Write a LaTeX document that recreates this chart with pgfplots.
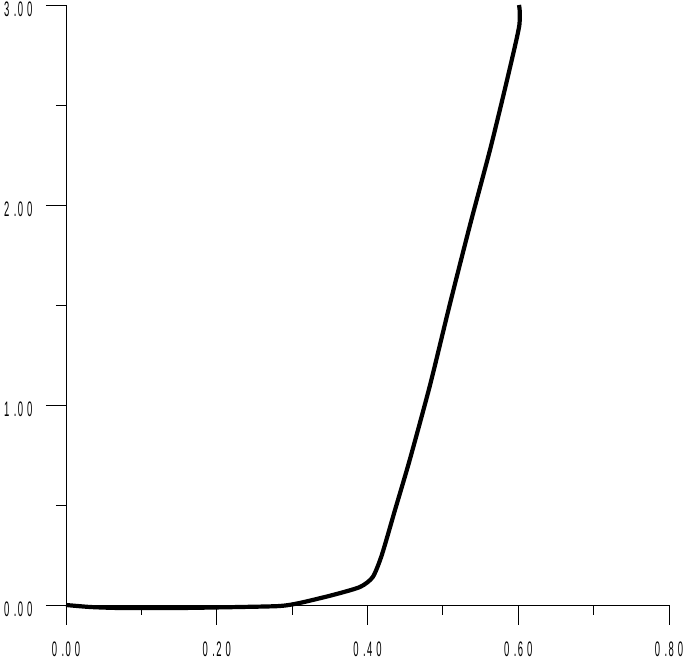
\documentclass[border=0pt]{standalone}
\usepackage{pgfplots}
\pgfplotsset{compat=1.18}
\usepackage{fontspec}
\setmainfont{Liberation Sans}
\newcommand{\lab}[3]{\scalebox{0.45}[1]{\fontsize{21}{21}\selectfont #1\kern10pt.\kern3pt#2\kern9pt#3}}
\begin{document}
\begin{tikzpicture}
\begin{axis}[
  anchor=origin, at={(0,0)},
  scale only axis, width=603pt, height=600pt,
  xmin=0, xmax=0.8, ymin=0, ymax=3,
  axis x line=bottom, axis y line=left,
  axis line style={-, line width=0.8pt},
  tick align=outside,
  major tick length=20pt, minor tick length=10pt,
  every tick/.style={black, line width=0.8pt},
  xtick={0,0.2,0.4,0.6,0.8},
  xticklabels={\lab{0}{0}{0},\lab{0}{2}{0},\lab{0}{4}{0},\lab{0}{6}{0},\lab{0}{8}{0}},
  ytick={0,1,2,3},
  yticklabels={\lab{0}{0}{0},\lab{1}{0}{0},\lab{2}{0}{0},\lab{3}{0}{0}},
  minor xtick={0.1,0.3,0.5,0.7},
  minor ytick={0.5,1.5,2.5},
  xticklabel style={anchor=north, yshift=-13pt},
  yticklabel style={anchor=east, xshift=-10pt, yshift=-4pt},
  clip=false,
]
\addplot[black, line width=4.2pt, line join=round, smooth, tension=0.4] coordinates {
(0,0) (0.032,-0.01) (0.072,-0.015) (0.151,-0.015) (0.231,-0.01) (0.284,-0.005)
(0.310,0.01) (0.354,0.05) (0.390,0.09) (0.407,0.14) (0.419,0.25) (0.4365,0.475)
(0.456,0.725) (0.483,1.10) (0.509,1.50) (0.536,1.90) (0.5625,2.275) (0.582,2.575)
(0.596,2.80) (0.6015,2.90) (0.602,2.97) (0.601,3.0)
};
\end{axis}
\pgfresetboundingbox
\path (-66pt,-56pt) rectangle (617pt,605pt);
\end{tikzpicture}
\end{document}
